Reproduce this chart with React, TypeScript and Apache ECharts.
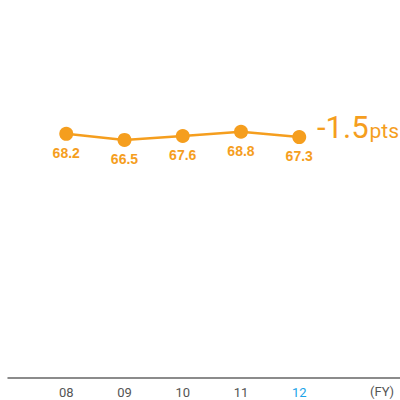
import React, { useEffect, useRef } from "react";
import * as echarts from "echarts";

const categories = ["08", "09", "10", "11", "12"];
const values = [68.2, 66.5, 67.6, 68.8, 67.3];
const changeValue = "-1.5";
const changeUnit = "pts";
const unitLabel = "(FY)";

const ORANGE = "#F59E1E";
const BLUE = "#1AA3E8";

export default function App() {
  const ref = useRef<HTMLDivElement>(null);
  useEffect(() => {
    if (!ref.current) return;
    const chart = echarts.init(ref.current, undefined, { renderer: "svg" });
    const lastIdx = categories.length - 1;
    chart.setOption({
      animation: false,
      grid: { left: 8, right: 0, top: 20, bottom: 22, containLabel: false },
      xAxis: {
        type: "value",
        min: -1,
        max: 5.73,
        interval: 1,
        axisLine: { show: true, lineStyle: { color: "#666", width: 1.5 } },
        axisTick: { show: false },
        splitLine: { show: false },
        axisLabel: {
          margin: 8,
          fontSize: 13,
          fontFamily: "Roboto",
          color: "#555",
          showMinLabel: true,
          showMaxLabel: false,
          formatter: (v: number) => {
            const i = Math.round(v);
            if (i >= 0 && i < categories.length) {
              return i === lastIdx ? "{hl|" + categories[i] + "}" : categories[i];
            }
            return "";
          },
          rich: {
            hl: { color: BLUE, fontSize: 13, fontFamily: "Roboto" },
          },
        },
      },
      yAxis: {
        type: "value",
        min: 0,
        max: 100,
        show: false,
      },
      series: [
        {
          type: "line",
          data: values.map((v, i) => [i, v]),
          symbol: "circle",
          symbolSize: 14,
          lineStyle: { color: ORANGE, width: 2.5 },
          itemStyle: { color: ORANGE },
          label: {
            show: true,
            position: "bottom",
            distance: 5,
            color: ORANGE,
            fontSize: 14,
            fontWeight: "bold",
            fontFamily: "Liberation Sans",
            formatter: (p: any) => p.value[1].toFixed(1),
          },
        },
      ],
      graphic: [
        {
          type: "text",
          left: 317,
          top: 112,
          style: {
            text: "{a|" + changeValue + "}{b|" + changeUnit + "}",
            fill: ORANGE,
            rich: {
              a: { fontSize: 31, fontFamily: "Roboto", fontWeight: 400, fill: ORANGE, color: ORANGE },
              b: { fontSize: 21, fontFamily: "Roboto", fontWeight: 400, fill: ORANGE, color: ORANGE, padding: [6, 0, 0, 1] },
            },
          },
        },
        {
          type: "text",
          left: 370,
          top: 385,
          style: {
            text: unitLabel,
            fontSize: 13,
            fontFamily: "Roboto",
            fill: "#555",
          },
        },
      ],
    });
    return () => chart.dispose();
  }, []);
  return <div ref={ref} style={{ width: 400, height: 400, position: "absolute", left: 0, top: 0 }} />;
}
